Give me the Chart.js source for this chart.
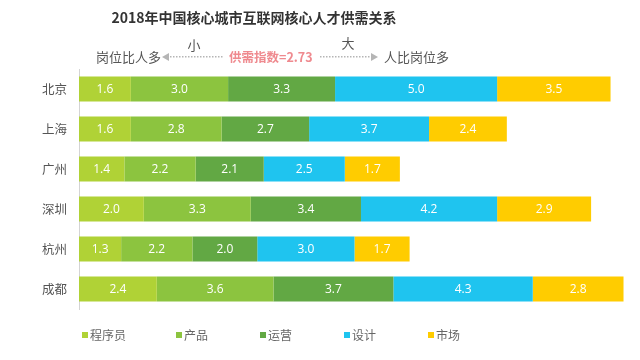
<!DOCTYPE html>
<html>
<head>
<meta charset="utf-8">
<script src="https://cdn.jsdelivr.net/npm/chart.js@4"></script>
<style>
  html, body { margin: 0; padding: 0; background: #fff; }
  #wrap { width: 640px; height: 360px; }
</style>
</head>
<body>
<div id="wrap"><canvas id="chart" width="640" height="360"></canvas></div>
<script>
const cities = ['北京', '上海', '广州', '深圳', '杭州', '成都'];
const seriesNames = ['程序员', '产品', '运营', '设计', '市场'];
const programmer = [1.6, 1.6, 1.4, 2.0, 1.3, 2.4];
const product = [3.0, 2.8, 2.2, 3.3, 2.2, 3.6];
const operation = [3.3, 2.7, 2.1, 3.4, 2.0, 3.7];
const design = [5.0, 3.7, 2.5, 4.2, 3.0, 4.3];
const market = [3.5, 2.4, 1.7, 2.9, 1.7, 2.8];
const colors = ['#b0d236', '#8cc43f', '#62a844', '#1fc4ef', '#ffcc00'];

const cjk = '"Noto Sans CJK SC", "Noto Sans", sans-serif';

// white value labels in the middle of each segment
const valueLabels = {
  id: 'valueLabels',
  afterDatasetsDraw(chart) {
    const ctx = chart.ctx;
    ctx.save();
    ctx.fillStyle = '#fff';
    ctx.font = '12px "Open Sans", sans-serif';
    ctx.textAlign = 'center';
    ctx.textBaseline = 'middle';
    chart.data.datasets.forEach((ds, i) => {
      chart.getDatasetMeta(i).data.forEach((bar, j) => {
        ctx.fillText(ds.data[j].toFixed(1), (bar.x + bar.base) / 2, bar.y + 1);
      });
    });
    ctx.restore();
  }
};

// title, index line and legend
const decorations = {
  id: 'decorations',
  afterDraw(chart) {
    const ctx = chart.ctx;
    ctx.save();
    ctx.textBaseline = 'middle';

    ctx.fillStyle = '#333';
    ctx.font = 'bold 14px ' + cjk;
    ctx.textAlign = 'center';
    ctx.fillText('2018年中国核心城市互联网核心人才供需关系', 254, 18);

    ctx.fillStyle = '#555';
    ctx.font = '13px ' + cjk;
    ctx.textAlign = 'left';
    ctx.fillText('岗位比人多', 96, 57);
    ctx.fillText('人比岗位多', 384, 57);
    ctx.textAlign = 'center';
    ctx.fillText('小', 194, 45);
    ctx.fillText('大', 348, 43);

    ctx.fillStyle = '#ef8a8f';
    ctx.font = 'bold 12.5px ' + cjk;
    ctx.textAlign = 'left';
    ctx.fillText('供需指数=2.73', 229, 57);

    // dotted arrows
    ctx.fillStyle = '#b5b5b5';
    for (let x = 170; x <= 222; x += 3) ctx.fillRect(x, 56, 1.5, 1.5);
    for (let x = 320; x <= 370; x += 3) ctx.fillRect(x, 56, 1.5, 1.5);
    ctx.beginPath();
    ctx.moveTo(162, 57); ctx.lineTo(169, 53); ctx.lineTo(169, 61); ctx.closePath();
    ctx.fill();
    ctx.beginPath();
    ctx.moveTo(378, 57); ctx.lineTo(371, 53); ctx.lineTo(371, 61); ctx.closePath();
    ctx.fill();

    // legend
    const legendX = [82, 176, 260, 344, 428];
    ctx.font = '12px ' + cjk;
    ctx.textAlign = 'left';
    seriesNames.forEach((name, i) => {
      ctx.fillStyle = colors[i];
      ctx.fillRect(legendX[i], 332, 6, 6);
      ctx.fillStyle = '#666';
      ctx.fillText(name, legendX[i] + 8, 335);
    });
    ctx.restore();
  }
};

const seriesValues = [programmer, product, operation, design, market];

new Chart(document.getElementById('chart'), {
  type: 'bar',
  data: {
    labels: cities,
    datasets: seriesNames.map((name, i) => ({
      label: name,
      data: seriesValues[i],
      backgroundColor: colors[i],
      borderWidth: 0,
      categoryPercentage: 1,
      barPercentage: 0.63
    }))
  },
  options: {
    indexAxis: 'y',
    responsive: false,
    animation: false,
    layout: { padding: { top: 69, bottom: 51, left: 0, right: 10 } },
    scales: {
      x: { stacked: true, display: false, min: 0, max: 17 },
      y: {
        stacked: true,
        grid: { display: false, drawTicks: false },
        border: { display: true, color: '#d4d4d4', width: 1 },
        ticks: { color: '#555', padding: 12, font: { family: cjk, size: 12.5 } },
        afterFit(scale) { scale.width = 79; }
      }
    },
    plugins: {
      legend: { display: false },
      tooltip: { enabled: false }
    }
  },
  plugins: [valueLabels, decorations]
});
</script>
</body>
</html>
